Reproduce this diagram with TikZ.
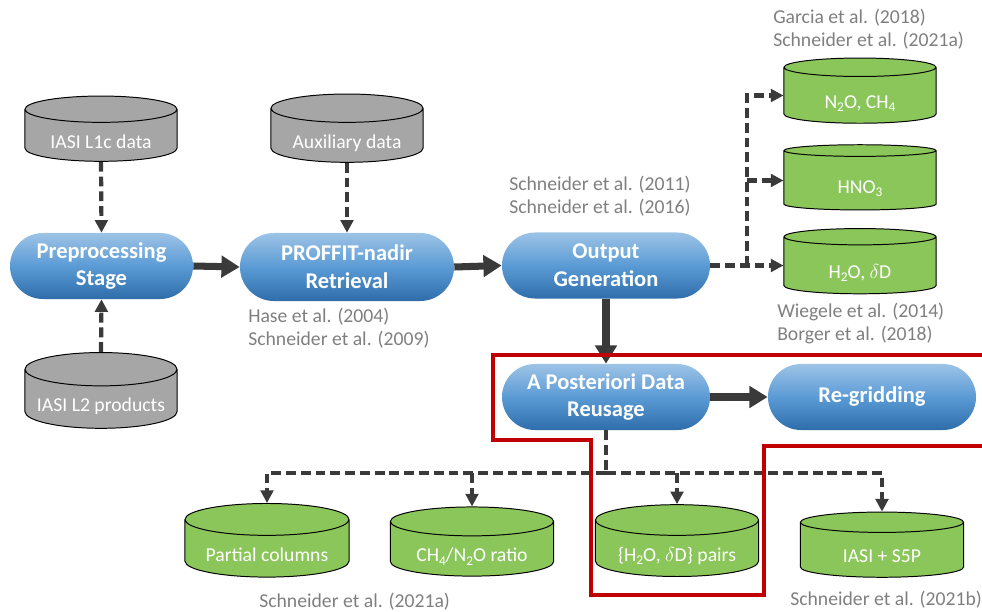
\documentclass[tikz,border=0pt]{standalone}
\usepackage{fontspec}
\setmainfont{Carlito}
\usetikzlibrary{shapes.geometric,shapes.misc,arrows.meta}

\definecolor{pillTop}{HTML}{9DC3E6}
\definecolor{pillMid}{HTML}{5B9BD5}
\definecolor{pillBot}{HTML}{2E6DAA}
\definecolor{dbGray}{HTML}{A6A6A6}
\definecolor{dbGreen}{HTML}{8BC65B}
\definecolor{citeGray}{HTML}{7F7F7F}
\definecolor{flowDark}{HTML}{3A3A3A}
\definecolor{boxRed}{HTML}{C00000}

\newcommand{\chemsub}[1]{\raisebox{-0.4ex}{\fontsize{9.5}{9.5}\selectfont #1}}

\tikzset{
  stage/.style={rounded rectangle, minimum width=5.2cm, minimum height=1.65cm,
    top color=pillTop, bottom color=pillBot, middle color=pillMid, text=white,
    font=\fontsize{16}{19.8}\selectfont\bfseries, align=center, inner sep=0pt},
  db/.style={cylinder, shape border rotate=90, aspect=0.26, draw=black, line width=0.7pt,
    minimum width=3.8cm, minimum height=1.63cm, text=white, inner sep=0pt,
    text height=18pt, text depth=0pt, font=\fontsize{14}{16.5}\selectfont,
    cylinder uses custom fill, cylinder body fill=#1, cylinder end fill=#1},
  cite/.style={text=citeGray, font=\fontsize{14}{16.5}\selectfont, align=left,
    anchor=west, inner sep=0pt},
  feed/.style={draw=flowDark, line width=3pt, dash pattern=on 7pt off 3.5pt,
    -{Triangle[length=9pt,width=9pt]}},
  flow/.style={draw=flowDark, line width=5pt, -{Triangle[length=13pt,width=15pt]}},
}

\begin{document}
\begin{tikzpicture}[x=0.025cm,y=-0.025cm]
\useasboundingbox (0,0) rectangle (982,612);
% processing chain
\node[stage, minimum width=4.575cm] (pre) at (101.5,266) {Preprocessing\\Stage};
\node[stage, minimum width=5.35cm, minimum height=1.7cm] (proffit) at (347,267) {PROFFIT-nadir\\Retrieval};
\node[stage] (out) at (606,265.5) {Output\\Generation};
\node[stage] (apost) at (606,397) {A Posteriori Data\\Reusage};
\node[stage] (regrid) at (872,397) {Re-gridding};
% input data
\node[db=dbGray] (l1c) at (101,135.5) {IASI L1c data};
\node[db=dbGray] (aux) at (347,135.5) {Auxiliary data};
\node[db=dbGray] (l2) at (101,399) {IASI L2 products};
% products
\node[db=dbGreen] (n2o) at (860,95.5) {N\chemsub{2}O, CH\chemsub{4}};
\node[db=dbGreen] (hno3) at (860,180.5) {HNO\chemsub{3}};
\node[db=dbGreen] (h2o) at (860,265.5) {H\chemsub{2}O, $\delta$D};
\node[db=dbGreen, minimum width=4.1cm] (partial) at (267,548.5) {Partial columns};
\node[db=dbGreen, minimum width=4.08cm] (ratio) at (472,549) {CH\chemsub{4}/N\chemsub{2}O ratio};
\node[db=dbGreen, minimum width=4.08cm] (pairs) at (677,548.5) {\{H\chemsub{2}O, $\delta$D\} pairs};
\node[db=dbGreen, minimum width=4.08cm] (s5p) at (882,550) {IASI + S5P};
% references
\node[cite] (citeproffit) at (248,328.5) {Hase et al. (2004)\\Schneider et al. (2009)};
\node[cite] (citeout) at (509,196) {Schneider et al. (2011)\\Schneider et al. (2016)};
\node[cite] (citen2o) at (773,29.5) {Garcia et al. (2018)\\Schneider et al. (2021a)};
\node[cite] (citeh2o) at (777,323.5) {Wiegele et al. (2014)\\Borger et al. (2018)};
\node[cite] (citeratio) at (259,602) {Schneider et al. (2021a)};
\node[cite] (cites5p) at (790,600) {Schneider et al. (2021b)};
% connectors
\draw[feed] (l1c.south) -- (pre.north);
\draw[feed] (l2.north) -- (pre.south);
\draw[feed] (aux.south) -- (proffit.north);
\draw[flow] (pre.east) -- (proffit.west);
\draw[flow] (proffit.east) -- (out.west);
\draw[flow] (out.south) -- (apost.north);
\draw[flow] (apost.east) -- (regrid.west);
\coordinate (outfork) at (747,265.5);
\draw[feed] (out.east) -- (out.east -| h2o.west);
\draw[feed] (outfork) |- (n2o.west);
\draw[feed] (outfork |- hno3.west) -- (hno3.west);
\coordinate (hub) at (606,473);
\draw[feed,-] (apost.south) -- (hub);
\draw[feed] (hub) -| (partial.north);
\draw[feed] (hub) -| (s5p.north);
\draw[feed] (hub -| ratio.north) -- (ratio.north);
\draw[feed] (hub -| pairs.north) -- (pairs.north);
% reused part
\draw[boxRed, line width=2.8pt] (990,355) -- (493,355) -- (493,440) -- (591,440)
  -- (591,595) -- (764,595) -- (764,446) -- (990,446);
\end{tikzpicture}
\end{document}
